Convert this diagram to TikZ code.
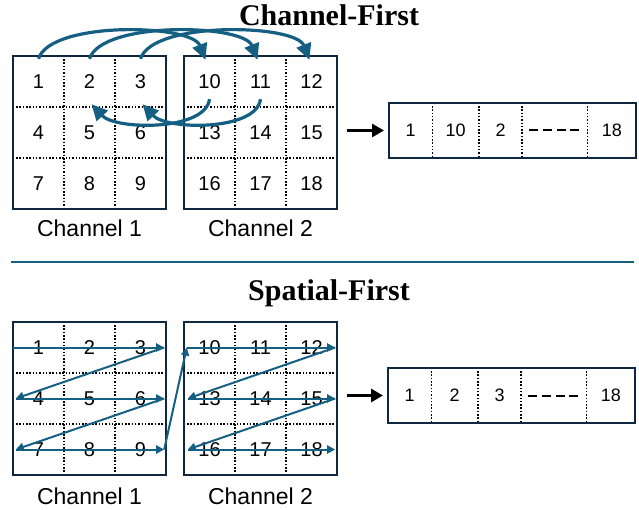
\documentclass[tikz,border=0pt]{standalone}
\usepackage{fontspec}
\setmainfont{Liberation Serif}
\newfontfamily\cellfont{Liberation Sans}
\usepackage{xcolor}
\usetikzlibrary{arrows.meta, calc, positioning}
\definecolor{flowblue}{HTML}{156082}
\definecolor{gridnavy}{HTML}{0E2841}

\begin{document}
\begin{tikzpicture}[
    x=1pt, y=-1pt,
    cell/.style={minimum width=51pt, minimum height=51pt, inner sep=0pt,
                 font=\cellfont\fontsize{20}{20}\selectfont},
    slot/.style={minimum height=55pt, inner sep=0pt, anchor=west,
                 font=\cellfont\fontsize{18}{18}\selectfont},
    title/.style={font=\bfseries\fontsize{30}{30}\selectfont, anchor=base},
    chlabel/.style={font=\cellfont\fontsize{23}{23}\selectfont, inner sep=0pt},
    gridframe/.style={draw=gridnavy, line width=2pt},
    dotsep/.style={draw=black, line width=1.5pt, dash pattern=on 1.5pt off 1.8pt},
    hop/.style={-{Triangle[length=16pt, width=15pt]}, flowblue, line width=3.2pt},
    scan/.style={-{Triangle[length=8pt, width=8pt]}, flowblue, line width=2pt},
    feed/.style={-{Triangle[length=12pt, width=13pt]}, line width=3pt},
]
\useasboundingbox (0,0) rectangle (639,510);

% titles and separator
\node[title] (cftitle) at (329,26) {Channel-First};
\node[title] (sftitle) at (329,301) {Spatial-First};
\draw[flowblue, line width=2.5pt] (11,262) -- (634,262);

% the four 3x3 grids
\foreach \r in {0,1,2}
  \foreach \c in {0,1,2} {
    \pgfmathtruncatemacro{\n}{3*\r+\c+1}
    \pgfmathtruncatemacro{\m}{\n+9}
    \node[cell] (cf\n) at (38.5+51*\c, 81.5+51*\r) {\n};
    \node[cell] (cf\m) at (209.5+51*\c, 81.5+51*\r) {\m};
    \node[cell] (sf\n) at (38.5+51*\c, 347.5+51*\r) {\n};
    \node[cell] (sf\m) at (209.5+51*\c, 347.5+51*\r) {\m};
  }
\foreach \g/\a/\b/\c/\d in {cf/1/3/7/9, cf/10/12/16/18, sf/1/3/7/9, sf/10/12/16/18} {
  \draw[dotsep] (\g\a.north east) -- (\g\c.south east);
  \draw[dotsep] (\g\b.north west) -- (\g\d.south west);
  \draw[dotsep] (\g\a.south west) -- (\g\b.south east);
  \draw[dotsep] (\g\c.north west) -- (\g\d.north east);
  \draw[gridframe] (\g\a.north west) rectangle (\g\d.south east);
}

\node[chlabel, below=10pt of cf8] (cflab1) {Channel 1};
\node[chlabel, below=10pt of cf17] (cflab2) {Channel 2};
\node[chlabel, below=12pt of sf8] (sflab1) {Channel 1};
\node[chlabel, below=12pt of sf17] (sflab2) {Channel 2};

% flattened sequences
\node[slot, minimum width=43pt] (cfo1) at (389,130.5) {1};
\node[slot, minimum width=46pt, right=0pt of cfo1] (cfo2) {10};
\node[slot, minimum width=43pt, right=0pt of cfo2] (cfo3) {2};
\node[slot, minimum width=65pt, right=0pt of cfo3] (cfo4) {};
\node[slot, minimum width=48pt, right=0pt of cfo4] (cfo5) {18};

\node[slot, minimum width=43pt] (sfo1) at (388,395.5) {1};
\node[slot, minimum width=46pt, right=0pt of sfo1] (sfo2) {2};
\node[slot, minimum width=43pt, right=0pt of sfo2] (sfo3) {3};
\node[slot, minimum width=65pt, right=0pt of sfo3] (sfo4) {};
\node[slot, minimum width=48pt, right=0pt of sfo4] (sfo5) {18};

\foreach \g in {cf, sf} {
  \foreach \i in {1,...,4}
    \draw[dotsep] (\g o\i.north east) -- (\g o\i.south east);
  \draw[line width=2pt, dash pattern=on 9pt off 4.7pt]
    ([xshift=7pt]\g o4.west) -- ([xshift=-8pt]\g o4.east);
  \draw[gridframe] (\g o1.north west) rectangle (\g o5.south east);
  \draw[feed] ([xshift=10pt]\g 15.east |- \g o1.west) -- ([xshift=-5pt]\g o1.west);
}

% channel-first order
\draw[hop] ([yshift=-3pt]cf1.north) .. controls +(12,-38) and +(-14,-36) .. ([xshift=-4pt,yshift=-4pt]cf10.north);
\draw[hop] ([yshift=-3pt]cf2.north) .. controls +(12,-38) and +(-14,-36) .. ([xshift=-3pt,yshift=-4pt]cf11.north);
\draw[hop] ([yshift=-3pt]cf3.north) .. controls +(12,-38) and +(-14,-36) .. ([xshift=-2pt,yshift=-4pt]cf12.north);
\draw[hop] ([yshift=8pt]cf10.south) .. controls +(-4,32) and +(24,26) .. ([xshift=2pt,yshift=3pt]cf2.south);
\draw[hop] ([yshift=8pt]cf11.south) .. controls +(-4,32) and +(24,26) .. ([xshift=2pt,yshift=3pt]cf3.south);

% spatial-first order
\draw[scan] (sf1.west) -- ([xshift=-2pt]sf3.east);
\draw[scan] ([xshift=-2pt]sf3.east) -- ([xshift=3pt]sf4.west);
\draw[scan] ([xshift=3pt]sf4.west) -- ([xshift=-2pt]sf6.east);
\draw[scan] ([xshift=-2pt]sf6.east) -- ([xshift=3pt]sf7.west);
\draw[scan] ([xshift=3pt]sf7.west) -- ([xshift=-2pt]sf9.east);
\draw[scan] ([xshift=-2pt]sf9.east) -- ([xshift=3pt]sf10.west);
\draw[scan] ([xshift=3pt]sf10.west) -- ([xshift=-2pt]sf12.east);
\draw[scan] ([xshift=-2pt]sf12.east) -- ([xshift=4pt]sf13.west);
\draw[scan] ([xshift=4pt]sf13.west) -- ([xshift=-2pt]sf15.east);
\draw[scan] ([xshift=-2pt]sf15.east) -- ([xshift=4pt]sf16.west);
\draw[scan] ([xshift=4pt]sf16.west) -- ([xshift=-2pt]sf18.east);
\end{tikzpicture}
\end{document}
